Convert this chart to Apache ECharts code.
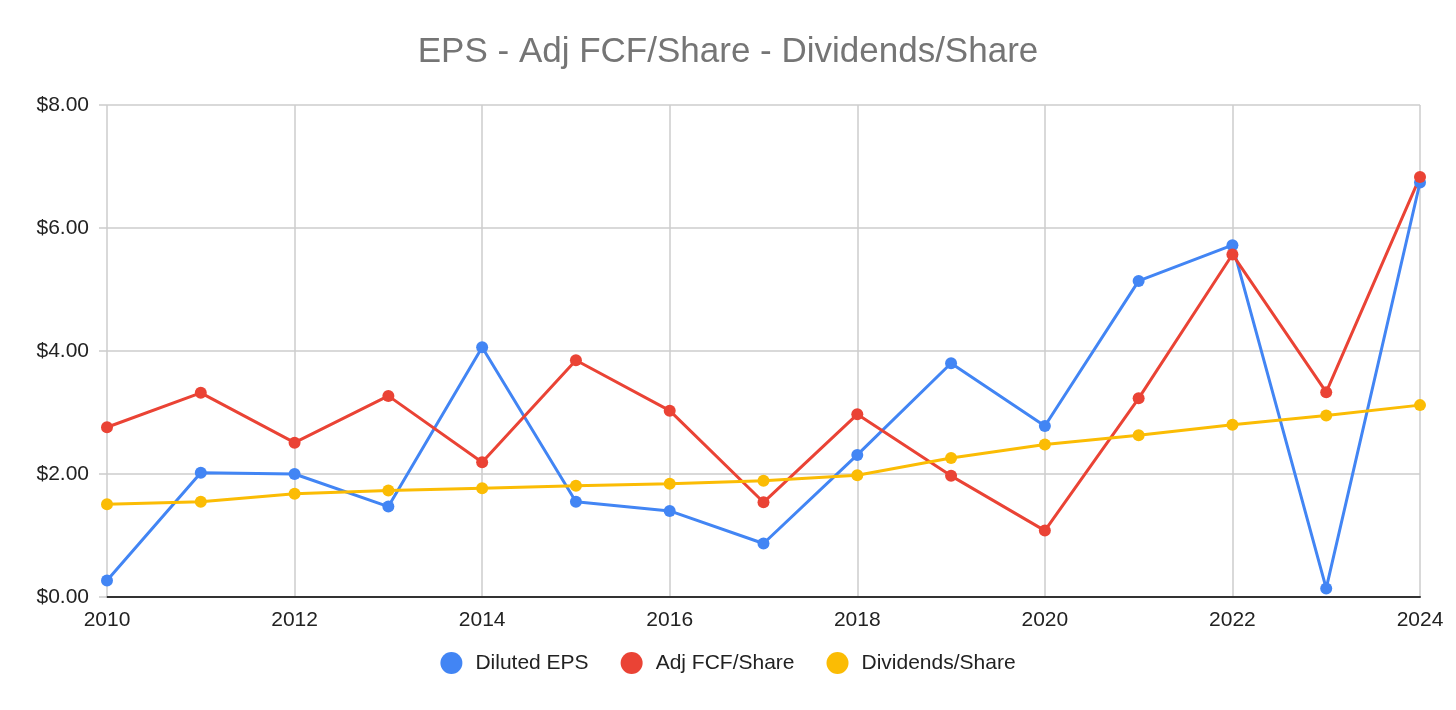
<!DOCTYPE html>
<html>
<head>
<meta charset="utf-8">
<title>EPS - Adj FCF/Share - Dividends/Share</title>
<script src="https://cdn.jsdelivr.net/npm/echarts@6/dist/echarts.min.js"></script>
<style>
  html, body { margin: 0; padding: 0; background: #fff; }
  #main { width: 1456px; height: 710px; }
</style>
</head>
<body>
<div id="main"></div>
<script>
// values
const years = [2010, 2011, 2012, 2013, 2014, 2015, 2016, 2017, 2018, 2019, 2020, 2021, 2022, 2023, 2024];
const dilutedEps = [0.27, 2.02, 2.00, 1.47, 4.06, 1.55, 1.40, 0.87, 2.31, 3.80, 2.78, 5.14, 5.72, 0.14, 6.74];
const adjFcfShare = [2.76, 3.32, 2.51, 3.27, 2.19, 3.85, 3.03, 1.54, 2.97, 1.97, 1.08, 3.23, 5.57, 3.33, 6.83];
const dividendsShare = [1.51, 1.55, 1.68, 1.73, 1.77, 1.81, 1.84, 1.89, 1.98, 2.26, 2.48, 2.63, 2.80, 2.95, 3.12];

const seriesNames = ['Diluted EPS', 'Adj FCF/Share', 'Dividends/Share'];
const seriesColors = ['#4285F4', '#EA4335', '#FBBC04'];

const font = 'Arial, "Liberation Sans", sans-serif';

const toPairs = (vals) => years.map((y, i) => [y, vals[i]]);

const makeLine = (name, color, vals) => ({
  name: name,
  type: 'line',
  data: toPairs(vals),
  symbol: 'circle',
  symbolSize: 12,
  lineStyle: { width: 3, color: color },
  itemStyle: { color: color },
  emphasis: { disabled: true },
  animation: false
});

const chart = echarts.init(document.getElementById('main'));

chart.setOption({
  backgroundColor: '#fff',
  title: {
    text: 'EPS - Adj FCF/Share - Dividends/Share',
    left: 'center',
    top: 30,
    textStyle: { fontFamily: font, fontSize: 35, fontWeight: 'normal', color: '#757575' }
  },
  legend: {
    bottom: 31,
    left: 'center',
    icon: 'circle',
    itemWidth: 22,
    itemHeight: 22,
    itemGap: 32,
    data: seriesNames,
    textStyle: { fontFamily: font, fontSize: 21, color: '#222', padding: [0, 0, 0, 8] }
  },
  grid: { left: 107, right: 36, top: 105, bottom: 113, containLabel: false },
  xAxis: {
    type: 'value',
    min: 2010,
    max: 2024,
    interval: 2,
    axisLine: { show: true, lineStyle: { color: '#333', width: 2 } },
    axisTick: { show: false },
    splitLine: { show: true, lineStyle: { color: '#cccccc', width: 1.5 } },
    axisLabel: {
      fontFamily: font, fontSize: 21, color: '#222', margin: 13,
      formatter: (v) => String(v)
    }
  },
  yAxis: {
    type: 'value',
    min: 0,
    max: 8,
    interval: 2,
    axisLine: { show: false },
    axisTick: { show: true, length: 8, lineStyle: { color: '#cccccc', width: 1.5 } },
    splitLine: { show: true, lineStyle: { color: '#cccccc', width: 1.5 } },
    axisLabel: {
      fontFamily: font, fontSize: 21, color: '#222', margin: 18,
      formatter: (v) => '$' + v.toFixed(2)
    }
  },
  series: [
    makeLine(seriesNames[0], seriesColors[0], dilutedEps),
    makeLine(seriesNames[1], seriesColors[1], adjFcfShare),
    makeLine(seriesNames[2], seriesColors[2], dividendsShare)
  ]
});
</script>
</body>
</html>
